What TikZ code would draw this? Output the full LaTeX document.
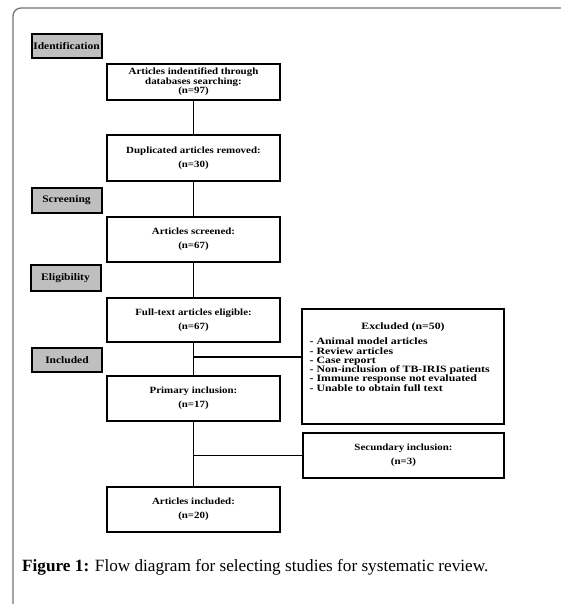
\documentclass[tikz,border=0pt]{standalone}
\usepackage{fontspec}
\usepackage{graphicx}
\setmainfont{Liberation Serif}
\newfontfamily\wideserif[FakeStretch=1.15]{Liberation Serif}
\begin{document}
\begin{tikzpicture}[x=1pt,y=-1pt,
  box/.style={draw,line width=1.8pt,minimum width=173pt,inner sep=0pt,align=center,
    font=\wideserif\fontsize{9.5}{14}\selectfont\bfseries},
  tag/.style={draw,line width=2pt,fill=black!25,minimum width=70pt,inner sep=0pt,
    font=\wideserif\fontsize{10}{12}\selectfont\bfseries},
  side/.style={draw,line width=1.8pt,minimum width=202pt,inner sep=0pt,
    font=\wideserif\fontsize{9.5}{14}\selectfont\bfseries},
  link/.style={line width=1.8pt}]
\useasboundingbox (0,0) rectangle (560,604);
\draw[black!55,line width=1.3pt] (13,620) -- (13,16) arc[start angle=180,end angle=270,radius=8] -- (570,8);
% left stage labels
\node[tag,minimum height=24pt] (t1) at (66.5,46) {Identification};
\node[tag,minimum height=25pt] (t2) at (66.5,200.5) {Screening};
\node[tag,minimum height=26pt] (t3) at (65.5,278) {Eligibility};
\node[tag,minimum height=24pt] (t4) at (67,360) {Included};
% main boxes
\node[box,minimum height=36pt,font=\wideserif\fontsize{9.5}{9.5}\selectfont\bfseries] (b1) at (193.5,82)
  {Articles indentified through\\databases searching:\\(n=97)};
\node[box,minimum height=46pt] (b2) at (193.5,158) {Duplicated articles removed:\\(n=30)};
\node[box,minimum height=45pt] (b3) at (193.5,239.5) {Articles screened:\\(n=67)};
\node[box,minimum height=44pt] (b4) at (193.5,320) {Full-text articles eligible:\\(n=67)};
\node[box,minimum height=45pt] (b5) at (193.5,398.5) {Primary inclusion:\\(n=17)};
\node[box,minimum height=45pt] (b6) at (193.5,509.5) {Articles included:\\(n=20)};
% side boxes
\node[side,minimum height=115pt] (ex) at (403,366.5) {%
  \scalebox{1.06}[1]{\begin{minipage}{188pt}\wideserif\fontsize{9.7}{9.3}\selectfont\bfseries
  \centering Excluded (n=50)\par\vspace{6pt}
  \raggedright\leftskip=6pt
  \mbox{- Animal model articles}\par
  \mbox{- Review articles}\par
  \mbox{- Case report}\par
  \mbox{- Non-inclusion of TB-IRIS patients}\par
  \mbox{- Immune response not evaluated}\par
  \mbox{- Unable to obtain full text}\par
  \vspace{19pt}
  \end{minipage}}};
\node[side,minimum height=45pt,minimum width=201pt,align=center] (sec) at (403.5,455.5)
  {Secundary inclusion:\\(n=3)};
% connectors
\draw[link] (b1) -- (b2);
\draw[link] (b2) -- (b3);
\draw[link] (b3) -- (b4);
\draw[link] (b4) -- (b5);
\draw[link] (b5) -- (b6);
\coordinate (j1) at (193.5,357);
\draw[link] (j1) -- (ex.west |- j1);
\draw[link] (b5.south |- sec.west) -- (sec.west);
% caption
\node[anchor=west,inner sep=0pt,font=\fontsize{17.2}{19}\selectfont] (cap) at (22,567)
  {\textbf{Figure 1:} Flow diagram for selecting studies for systematic review.};
\end{tikzpicture}
\end{document}
